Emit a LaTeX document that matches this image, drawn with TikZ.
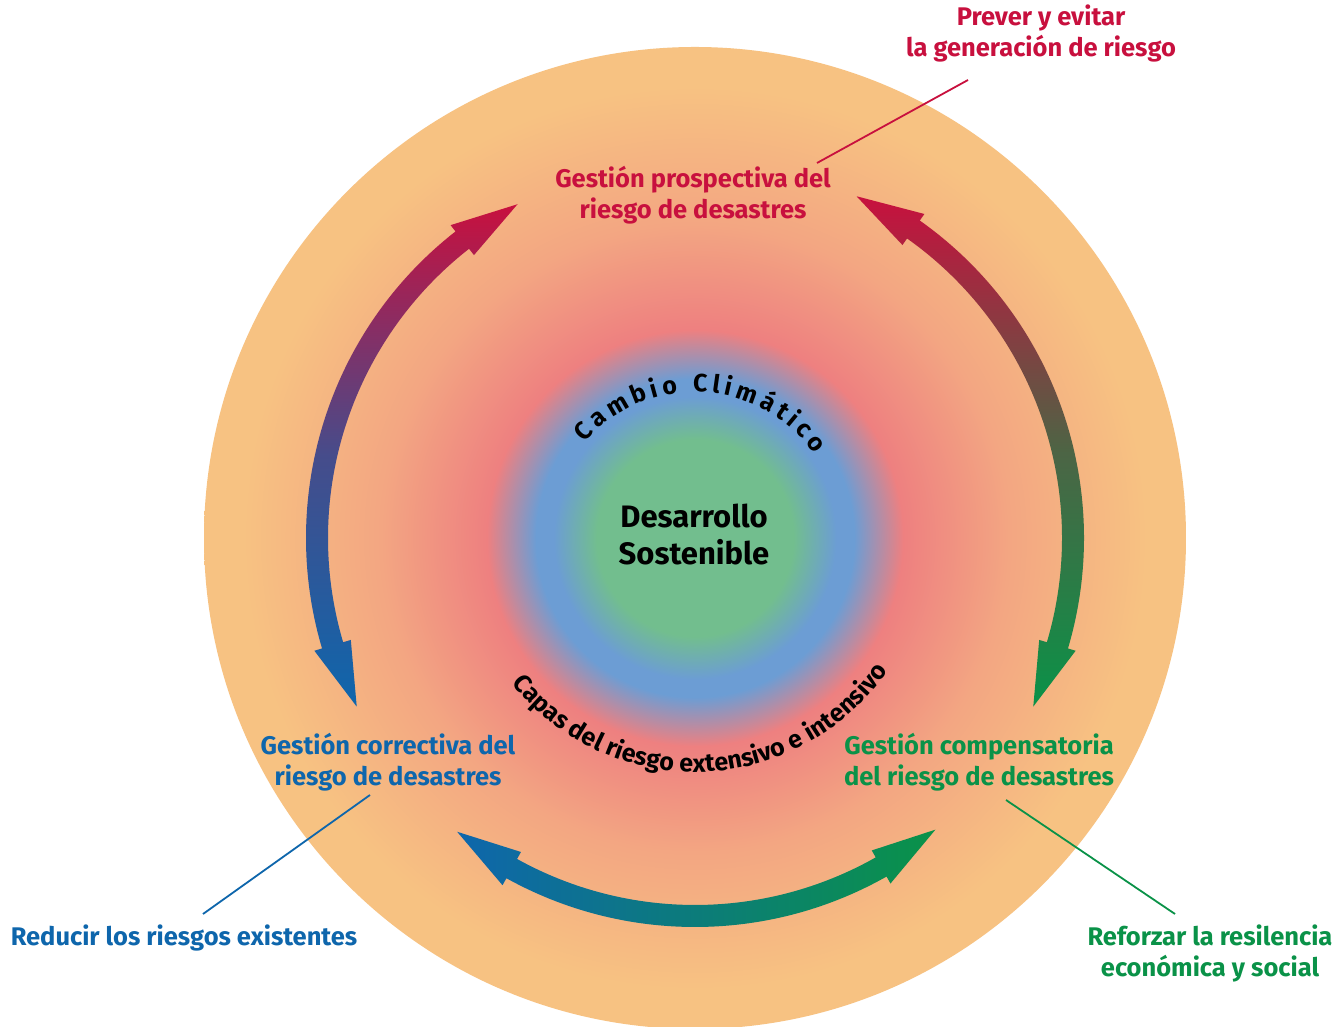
\documentclass[tikz,border=0pt]{standalone}
\usepackage{fontspec}
\setmainfont{Fira Sans}
\usetikzlibrary{decorations.text}

\definecolor{riskred}{RGB}{200,16,62}
\definecolor{riskblue}{RGB}{14,102,172}
\definecolor{riskgreen}{RGB}{10,146,72}
\definecolor{diskgreen}{RGB}{114,190,142}
\definecolor{diskblue}{RGB}{108,157,212}
\definecolor{diskpink}{RGB}{238,128,128}
\definecolor{disksalmon}{RGB}{243,166,130}
\definecolor{diskorange}{RGB}{247,194,130}

\pgfdeclareradialshading{riskdisk}{\pgfpoint{0bp}{0bp}}{%
  color(0bp)=(diskgreen); color(5bp)=(diskgreen); color(7.2bp)=(diskblue);
  color(8.1bp)=(diskblue); color(10.6bp)=(diskpink); color(16bp)=(disksalmon);
  color(23bp)=(diskorange); color(50bp)=(diskorange)}

% curved double arrow on the ring, #1/#2 tip angles, #3 shading
\newcommand{\arcarrow}[3]{%
  \pgfmathsetmacro{\angA}{#1+10}%
  \pgfmathsetmacro{\angB}{#2-10}%
  \shade[#3] (#1:378) -- (\angA:397) -- (\angA:389)
    arc[start angle=\angA, end angle=\angB, radius=389]
    -- (\angB:397) -- (#2:378) -- (\angB:359) -- (\angB:367)
    arc[start angle=\angB, end angle=\angA, radius=367]
    -- (\angA:359) -- cycle;}

\begin{document}
\begin{tikzpicture}[x=1pt,y=1pt,
  lbl/.style={font=\bfseries\fontsize{25.5}{31}\selectfont,align=center,inner sep=0pt},
  lead/.style={line width=1.8pt}
  ]
    \useasboundingbox (0,0) rectangle (1338,1027);
    \fill[white] (0,0) rectangle (1338,1027);
    \coordinate (c) at (695,489);
    \shade[shading=riskdisk] (c) circle[radius=491];

    \begin{scope}[shift={(c)}]
        \arcarrow{118}{206.5}{top color=riskred,bottom color=riskblue,middle color=riskblue!70!riskred}
        \arcarrow{-26.5}{64.7}{top color=riskred,bottom color=riskgreen,middle color=riskgreen!65!riskred}
        \arcarrow{231}{309.5}{left color=riskblue,right color=riskgreen}

        \path[decorate,decoration={text along path,text align=fit to path,
            text={|\bfseries\fontsize{25}{25}\selectfont|Cambio Climático}}]
            (139:146) arc[start angle=139,end angle=35,radius=146];
        \path[decorate,decoration={text along path,text align=center,
            text={|\bfseries\fontsize{25}{25}\selectfont|Capas del riesgo extensivo e intensivo}}]
            (200:234) arc[start angle=200,end angle=344,radius=234];
    \end{scope}

    \node[font=\bfseries\fontsize{31}{37}\selectfont,align=center,inner sep=0pt] (desarrollo) at (694,492) {Desarrollo\\Sostenible};

    \node[lbl,riskred] (prosp) at (693,832) {Gestión prospectiva del\\riesgo de desastres};
    \node[lbl,riskred] (prever) at (1041,993) {Prever y evitar\\la generación de riesgo};
    \node[lbl,riskblue] (correct) at (388,265) {Gestión correctiva del\\riesgo de desastres};
    \node[lbl,riskblue] (reducir) at (184,89) {Reducir los riesgos existentes};
    \node[lbl,riskgreen] (compens) at (979,265) {Gestión compensatoria\\del riesgo de desastres};
    \node[lbl,riskgreen] (reforzar) at (1210,74) {Reforzar la resilencia\\económica y social};

    % leader lines
    \coordinate (prever-end) at (968,947);
    \coordinate (prosp-end) at (817,864);
    \coordinate (correct-end) at (370,232);
    \coordinate (reducir-end) at (203,113);
    \coordinate (compens-end) at (1006,227);
    \coordinate (reforzar-end) at (1175,113);
    \draw[lead,riskred] (prever-end) -- (prosp-end);
    \draw[lead,riskblue] (correct-end) -- (reducir-end);
    \draw[lead,riskgreen] (compens-end) -- (reforzar-end);
\end{tikzpicture}
\end{document}
